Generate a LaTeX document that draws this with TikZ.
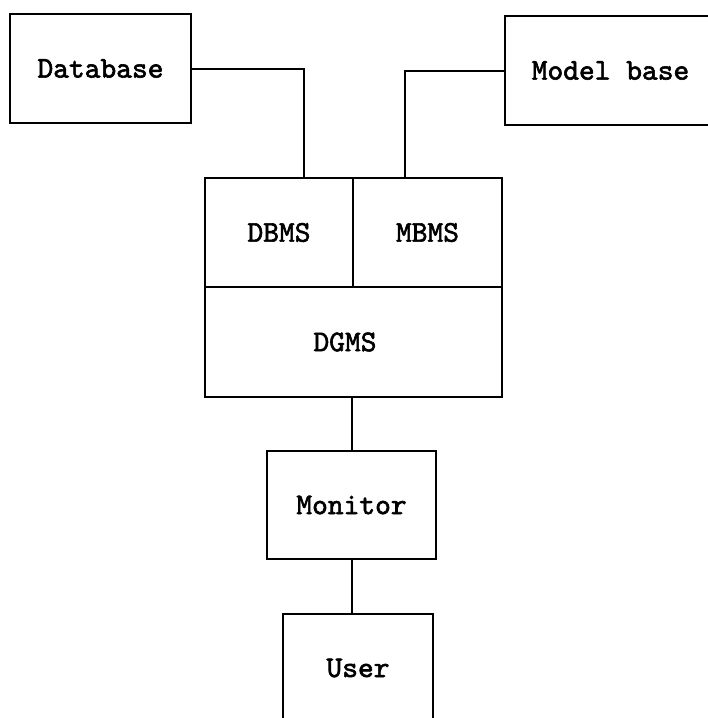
\documentclass[tikz,border=0pt]{standalone}
\usepackage{fontspec}
\newfontfamily\labelfont{lmmono10-regular.otf}[FakeBold=2]
\begin{document}
\begin{tikzpicture}[x=1pt,y=-1pt,
  every node/.style={font=\labelfont\fontsize{30}{34}\selectfont},
  block/.style={draw, line width=2pt, rectangle, inner sep=0pt},
  wire/.style={line width=2pt}]
\useasboundingbox (0,0) rectangle (708,718);
\clip (0,0) rectangle (708,718);
% outer stores
\node[block, minimum width=181pt, minimum height=109pt] (db) at (100.5,68.5) {Database};
\node[block, minimum width=211pt, minimum height=109pt] (mb) at (610.5,70.5) {Model base};
% management systems
\node[block, minimum width=148pt, minimum height=109pt] (dbms) at (279,232.5) {DBMS};
\node[block, minimum width=149pt, minimum height=109pt] (mbms) at (427.5,232.5) {MBMS};
\node[block, minimum width=297pt, minimum height=110pt] (dgms) at (353.5,342) {};
\node (dgmslabel) at (345,342) {DGMS};
% interface chain
\node[block, minimum width=169pt, minimum height=108pt] (mon) at (351.5,505) {Monitor};
\node[block, minimum width=150pt, minimum height=108pt] (user) at (358,668) {User};
% connectors
\draw[wire] (db.east) -| ([xshift=25pt]dbms.north);
\draw[wire] (mb.west) -| ([xshift=-22.5pt]mbms.north);
\draw[wire] (mon.north) -- (mon.north |- dgms.south);
\draw[wire] (mon.south) -- (mon.south |- user.north);
\end{tikzpicture}
\end{document}
